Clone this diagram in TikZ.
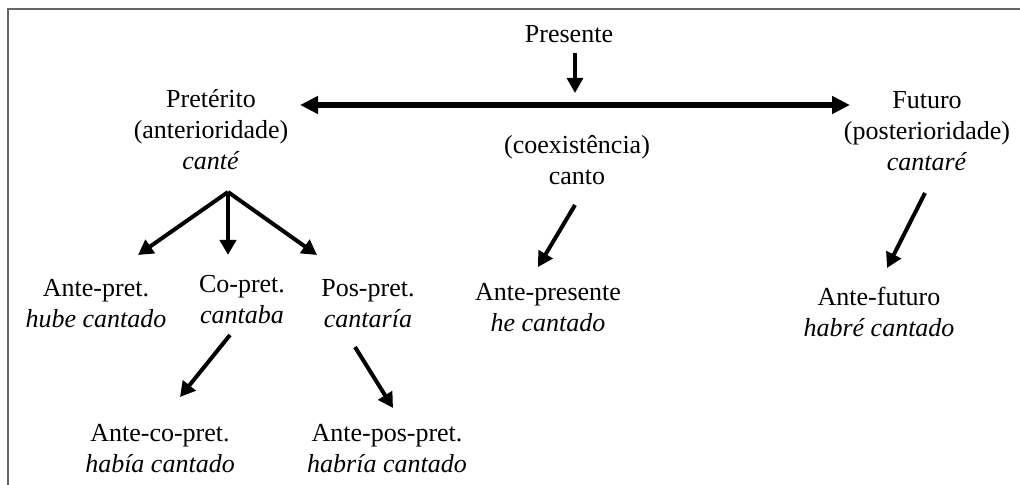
\documentclass[tikz,border=0pt]{standalone}
\usepackage{fontspec}
\setmainfont{Liberation Serif}
\usetikzlibrary{calc,arrows.meta,positioning}

\tikzset{
  tense/.style={align=center, inner sep=0pt, anchor=base, font=\fontsize{13pt}{15.5pt}\selectfont},
  link/.style={line width=2pt, -{Triangle[length=7.5pt,width=8pt]}},
  timeline/.style={line width=3.2pt, {Triangle[length=9pt,width=8.5pt]}-{Triangle[length=9pt,width=8.5pt]}},
}

\begin{document}
\begin{tikzpicture}[x=0.5pt, y=-0.5pt]
        \useasboundingbox (0,0) rectangle (1020,485);
        \draw[black!60, line width=1pt] (8,485) -- (8,9) -- (1020,9);

        % base = baseline of the last line
        \node[tense] (Presente) at (569,43) {Presente};
        \node[tense] (Preterito) at (211,170) {Pretérito\\(anterioridade)\\\textit{canté}};
        \node[tense] (Futuro) at (927,171) {Futuro\\(posterioridade)\\\textit{cantaré}};
        \node[tense] (Coex) at (577,185) {(coexistência)\\canto};
        \node[tense] (AntePret) at (96,328) {Ante-pret.\\\textit{hube cantado}};
        \node[tense] (CoPret) at (242,324) {Co-pret.\\\textit{cantaba}};
        \node[tense] (PosPret) at (368,328) {Pos-pret.\\\textit{cantaría}};
        \node[tense] (AntePresente) at (548,332) {Ante-presente\\\textit{he cantado}};
        \node[tense] (AnteFuturo) at (879,336) {Ante-futuro\\\textit{habré cantado}};
        \node[tense] (AnteCoPret) at (160,472) {Ante-co-pret.\\\textit{había cantado}};
        \node[tense] (AntePosPret) at (387,472) {Ante-pos-pret.\\\textit{habría cantado}};

        \path[link]
        ([shift={(6,10)}]Presente.base) edge [line width=1.6pt] ([shift={(6,50)}]Presente.base)
        ([shift={(89,-65)}]Preterito.base) edge [timeline] ([shift={(-77,-66)}]Futuro.base)
        ([shift={(17,22)}]Preterito.base) edge ([shift={(42,-73)}]AntePret.base)
                                          edge ([shift={(-14,-69)}]CoPret.base)
                                          edge ([shift={(-51,-73)}]PosPret.base)
        ([shift={(-2,20)}]Coex.base) edge ([shift={(-10,-65)}]AntePresente.base)
        ([shift={(-2,22)}]Futuro.base) edge ([shift={(8,-68)}]AnteFuturo.base)
        ([shift={(-12,11)}]CoPret.base) edge ([shift={(20,-75)}]AnteCoPret.base)
        ([shift={(-13,19)}]PosPret.base) edge ([shift={(6,-64)}]AntePosPret.base);
    \end{tikzpicture}
\end{document}
